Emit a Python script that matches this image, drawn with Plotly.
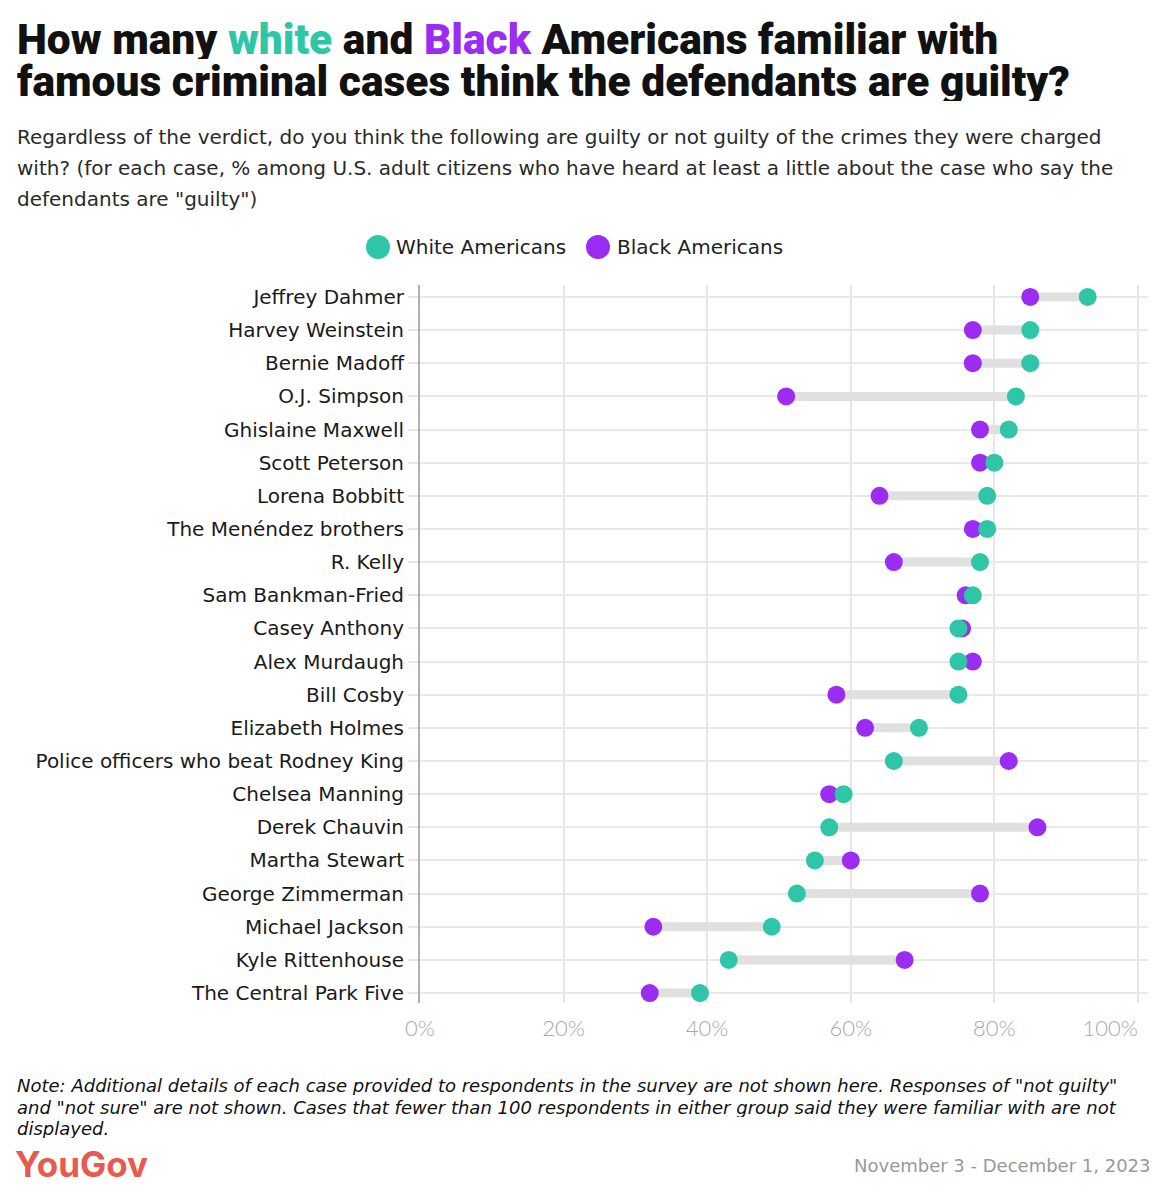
import plotly.graph_objects as go

cases = ["Jeffrey Dahmer", "Harvey Weinstein", "Bernie Madoff", "O.J. Simpson",
         "Ghislaine Maxwell", "Scott Peterson", "Lorena Bobbitt", "The Menéndez brothers",
         "R. Kelly", "Sam Bankman-Fried", "Casey Anthony", "Alex Murdaugh", "Bill Cosby",
         "Elizabeth Holmes", "Police officers who beat Rodney King", "Chelsea Manning",
         "Derek Chauvin", "Martha Stewart", "George Zimmerman", "Michael Jackson",
         "Kyle Rittenhouse", "The Central Park Five"]
white = [93, 85, 85, 83, 82, 80, 79, 79, 78, 77, 75, 75, 75, 69.5, 66, 59, 57, 55, 52.5, 49, 43, 39]
black = [85, 77, 77, 51, 78, 78, 64, 77, 66, 76, 75.5, 77, 58, 62, 82, 57, 86, 60, 78, 32.5, 67.5, 32]
xticks = [0, 20, 40, 60, 80, 100]
xticklabels = ["0%", "20%", "40%", "60%", "80%", "100%"]
series_names = ["White Americans", "Black Americans"]

TEAL = "#2EC6A6"
PURPLE = "#9B2CF2"
FONT = "DejaVu Sans"
XRANGE = [0, 101.4]

# page body has an 8px margin; compensate
OFF = 8
W, H = 1168 - OFF, 1200 - OFF
ML, MR, MT, MB = 420 - OFF, 20, 285 - OFF, 197
PW, PH = W - ML - MR, H - MT - MB

cx, cy = [], []
for c, w, b in zip(cases, white, black):
    cx += [w, b, None]
    cy += [c, c, None]

fig = go.Figure()
fig.add_trace(go.Scatter(x=cx, y=cy, mode="lines", line=dict(color="#e0e0e0", width=9),
                         showlegend=False, hoverinfo="skip"))
fig.add_trace(go.Scatter(x=black, y=cases, mode="markers", name=series_names[1],
                         marker=dict(color=PURPLE, size=18), showlegend=False))
fig.add_trace(go.Scatter(x=white, y=cases, mode="markers", name=series_names[0], xaxis="x2",
                         marker=dict(color=TEAL, size=18), showlegend=False))

tickfont = dict(size=22, color="#a8a8a8", family="Lato", weight=300)
fig.update_layout(
    width=W, height=H,
    paper_bgcolor="white", plot_bgcolor="white",
    margin=dict(l=ML, r=MR, t=MT, b=MB, autoexpand=False),
    font=dict(family=FONT, color="#1a1a1a"),
    showlegend=False,
    xaxis=dict(range=XRANGE, tickvals=xticks, ticktext=xticklabels[:-1] + [""], automargin=False,
               showgrid=True, gridcolor="#e6e6e6", gridwidth=1.5, zeroline=False,
               showline=False, ticks="", ticklabelstandoff=10, tickfont=tickfont),
    xaxis2=dict(range=XRANGE, overlaying="x", side="bottom", tickvals=xticks[-1:],
                ticktext=xticklabels[-1:], ticklabelposition="outside left", automargin=False,
                ticklabeloverflow="allow", showgrid=False, zeroline=False, showline=False,
                ticks="", ticklabelstandoff=10, tickfont=tickfont),
    yaxis=dict(categoryorder="array", categoryarray=cases, range=[21.3, -0.36], automargin=False,
               showgrid=True, gridcolor="#e8e8e8", gridwidth=2, zeroline=False,
               showline=True, linecolor="#b0b0b0", linewidth=2,
               ticks="outside", ticklen=10, tickcolor="#e6e6e6", tickwidth=2,
               tickfont=dict(size=20, color="#1a1a1a")),
)

def px(x):
    return (x - OFF - ML) / PW

def py(y):
    return (H - MB - (y - OFF)) / PH

ann = []
def A(text, x, y, size, color="#1a1a1a", family=FONT, xanchor="left", weight=None, style=None, height=None):
    f = dict(size=size, color=color, family=family)
    if weight:
        f["weight"] = weight
    if style:
        f["style"] = style
    xx = x - 3 if xanchor == "left" else x + 3
    a = dict(text=text, x=px(xx), y=py(y), xref="paper", yref="paper",
             showarrow=False, xanchor=xanchor, yanchor="middle", font=f, align="left")
    if height:
        a["height"] = height
    ann.append(a)

title1 = (f"How many <span style='color:{TEAL}'>white</span> and "
          f"<span style='color:{PURPLE}'>Black</span> Americans familiar with")
title2 = "famous criminal cases think the defendants are guilty?"
A(title1, 18, 39, 42.5, color="#111", family="Roboto", weight=900, height=40)
A(title2, 18, 81, 42.5, color="#111", family="Roboto", weight=900, height=40)

sub = ["Regardless of the verdict, do you think the following are guilty or not guilty of the crimes they were charged",
       "with? (for each case, % among U.S. adult citizens who have heard at least a little about the case who say the",
       "defendants are \"guilty\")"]
for i, s in enumerate(sub):
    A(s, 18, 137 + i * 31, 20, color="#2a2a2a", height=28)

note = ["Note: Additional details of each case provided to respondents in the survey are not shown here. Responses of \"not guilty\"",
        "and \"not sure\" are not shown. Cases that fewer than 100 respondents in either group said they were familiar with are not",
        "displayed."]
for i, s in enumerate(note):
    A(s, 18, 1085 + i * 21.5, 18, color="#111", style="italic", height=20)

A("YouGov", 16, 1164, 35, color="#E8594E", family="Inter", weight=700)
A("November 3 - December 1, 2023", 1150, 1165, 18, color="#999", xanchor="right")

# custom legend
shapes = []
for (cxp, col), (tx, name) in zip([(378, TEAL), (598, PURPLE)], [(397, series_names[0]), (618, series_names[1])]):
    shapes.append(dict(type="circle", xref="paper", yref="paper", xsizemode="pixel", ysizemode="pixel",
                       xanchor=px(cxp), yanchor=py(247), x0=-12, x1=12, y0=-12, y1=12,
                       fillcolor=col, line=dict(width=0)))
    A(name, tx, 247, 20, color="#222")

fig.update_layout(annotations=ann, shapes=shapes)

fig.write_html("out.html")
